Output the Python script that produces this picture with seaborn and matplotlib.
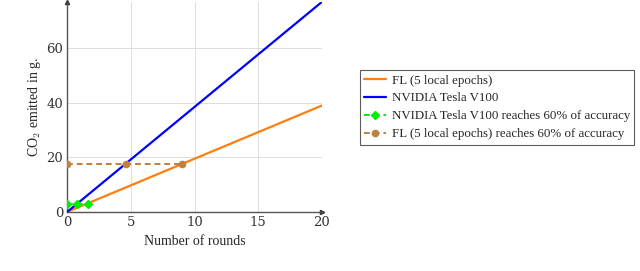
import matplotlib
matplotlib.use("Agg")
import matplotlib.pyplot as plt
import seaborn as sns
import pandas as pd

# data
rounds = [0, 20]
fl_co2 = [0, 39]
v100_co2 = [0, 77]
v100_acc_x = [0, 0.8, 1.6]
v100_acc_y = [3, 3, 3]
fl_acc_x = [0, 4.6, 9]
fl_acc_y = [17.5, 17.5, 17.5]
xticks = [0, 5, 10, 15, 20]
yticks = [0, 20, 40, 60]

sns.set_style("white")
plt.rcParams['font.family'] = ['Liberation Serif', 'DejaVu Serif']
plt.rcParams['mathtext.fontset'] = 'cm'

fig = plt.figure(figsize=(6.4, 2.71), dpi=100)
ax = fig.add_axes([0.105, 0.218, 0.398, 0.775])

df_lines = pd.DataFrame({
    'x': rounds * 2,
    'y': fl_co2 + v100_co2,
    'series': ['FL (5 local epochs)'] * 2 + ['NVIDIA Tesla V100'] * 2,
})
sns.lineplot(data=df_lines, x='x', y='y', hue='series',
             palette=['#ff7f0e', '#0000ff'], linewidth=1.6, ax=ax, zorder=3)

ax.plot(v100_acc_x, v100_acc_y, color='#00ee00', linestyle=(0, (3, 2)), linewidth=1.4,
        marker='D', markersize=4, label='NVIDIA Tesla V100 reaches 60% of accuracy', zorder=4)
ax.plot(fl_acc_x, fl_acc_y, color='#c0803f', linestyle=(0, (3, 2)), linewidth=1.4,
        marker='o', markersize=4.5, label='FL (5 local epochs) reaches 60% of accuracy', zorder=4)

ax.set_xlim(0, 20)
ax.set_ylim(0, 77)
ax.set_xticks(xticks)
ax.set_yticks(yticks)
ax.tick_params(axis='both', length=0, pad=3, colors='#333333')
for lbl in ax.get_xticklabels() + ax.get_yticklabels():
    lbl.set_fontfamily('DejaVu Serif')
    lbl.set_fontsize(9.5)
ax.grid(True, color='#dddddd', linewidth=0.7)
ax.set_axisbelow(True)
for s in ['top', 'right']:
    ax.spines[s].set_visible(False)
for s in ['left', 'bottom']:
    ax.spines[s].set_color('#555555')
    ax.spines[s].set_linewidth(1.0)
ax.plot(1, 0, '>', color='#333333', markersize=3, transform=ax.transAxes, clip_on=False)
ax.plot(0, 1, '^', color='#333333', markersize=3, transform=ax.transAxes, clip_on=False)

ax.set_xlabel('Number of rounds', fontsize=10)
ax.set_ylabel('CO$_2$ emitted in g.', fontsize=10, labelpad=2)

leg = ax.legend(loc='upper left', bbox_to_anchor=(1.149, 0.676), fontsize=9.3,
                frameon=True, fancybox=False, edgecolor='#333333',
                handlelength=1.7, handletextpad=0.4, borderpad=0.35,
                labelspacing=0.45, borderaxespad=0)
leg.get_frame().set_linewidth(0.8)

fig.savefig('out.png', dpi=100)
